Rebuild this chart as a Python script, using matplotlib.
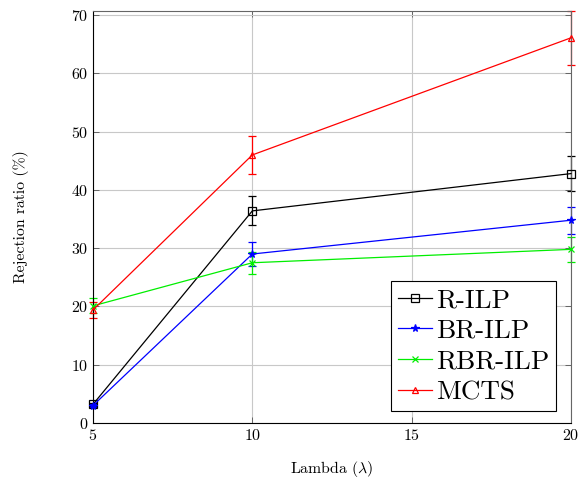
import matplotlib
matplotlib.use("Agg")
import matplotlib.pyplot as plt

plt.rcParams["font.family"] = "cmr10"
plt.rcParams["mathtext.fontset"] = "cm"
plt.rcParams["axes.formatter.use_mathtext"] = True

lambdas = [5, 10, 20]

r_ilp = [3.2, 36.4, 42.8]
r_ilp_err = [0.3, 2.5, 3.0]
br_ilp = [3.0, 29.0, 34.8]
br_ilp_err = [0.3, 2.0, 2.3]
rbr_ilp = [20.1, 27.5, 29.8]
rbr_ilp_err = [1.3, 1.9, 2.1]
mcts = [19.4, 46.0, 66.1]
mcts_err = [1.4, 3.2, 4.6]

series = [
    ("R-ILP", r_ilp, r_ilp_err, "black", "s", 5.5),
    ("BR-ILP", br_ilp, br_ilp_err, "blue", "*", 5.5),
    ("RBR-ILP", rbr_ilp, rbr_ilp_err, "#00ee00", "x", 4.5),
    ("MCTS", mcts, mcts_err, "red", "^", 5),
]

fig = plt.figure(figsize=(5.87, 4.79), dpi=100)
ax = fig.add_axes([0.1584, 0.1169, 0.8143, 0.8601])

for label, vals, errs, color, marker, ms in series:
    filled = marker in ("*", "x")
    ax.errorbar(lambdas, vals, yerr=errs, fmt="none", ecolor=color,
                elinewidth=0.9, capsize=2.9, capthick=0.9, clip_on=False)
    ax.plot(lambdas, vals, color=color, linewidth=0.9,
            marker=marker, markersize=ms,
            markerfacecolor=color if filled else "none",
            markeredgecolor=color, markeredgewidth=0.9,
            label=label, clip_on=False, zorder=3)

ax.set_xlim(5, 20)
ax.set_ylim(0, 70.7)
ax.set_xticks([5, 10, 15, 20])
ax.set_yticks(range(0, 80, 10))
ax.grid(True, color="#c8c8c8", linewidth=0.8)
ax.set_axisbelow(True)
ax.tick_params(direction="in", length=4, width=0.6, labelsize=11.5,
               top=True, right=True, colors="#555555", labelcolor="black")
for side in ax.spines.values():
    side.set_linewidth(0.8)
ax.spines["left"].set_color("black")
ax.spines["bottom"].set_color("black")
ax.spines["top"].set_color("#666666")
ax.spines["right"].set_color("#666666")

ax.set_xlabel(r"Lambda ($\lambda$)", fontsize=11.3)
ax.set_ylabel("Rejection ratio (%)", fontsize=11.3)
ax.xaxis.set_label_coords((332 - 93) / 478, (423 - 459) / 412)
ax.yaxis.set_label_coords((29 - 93) / 478, 0.5)

leg = ax.legend(loc="lower right", bbox_to_anchor=(0.9686, 0.029),
                fontsize=19.5, frameon=True, fancybox=False,
                edgecolor="black", handlelength=1.26, handletextpad=0.15,
                borderpad=0.25, labelspacing=0.25, borderaxespad=0)
leg.get_frame().set_linewidth(0.8)
leg.get_frame().set_alpha(1)

fig.savefig("out.png", dpi=100)
